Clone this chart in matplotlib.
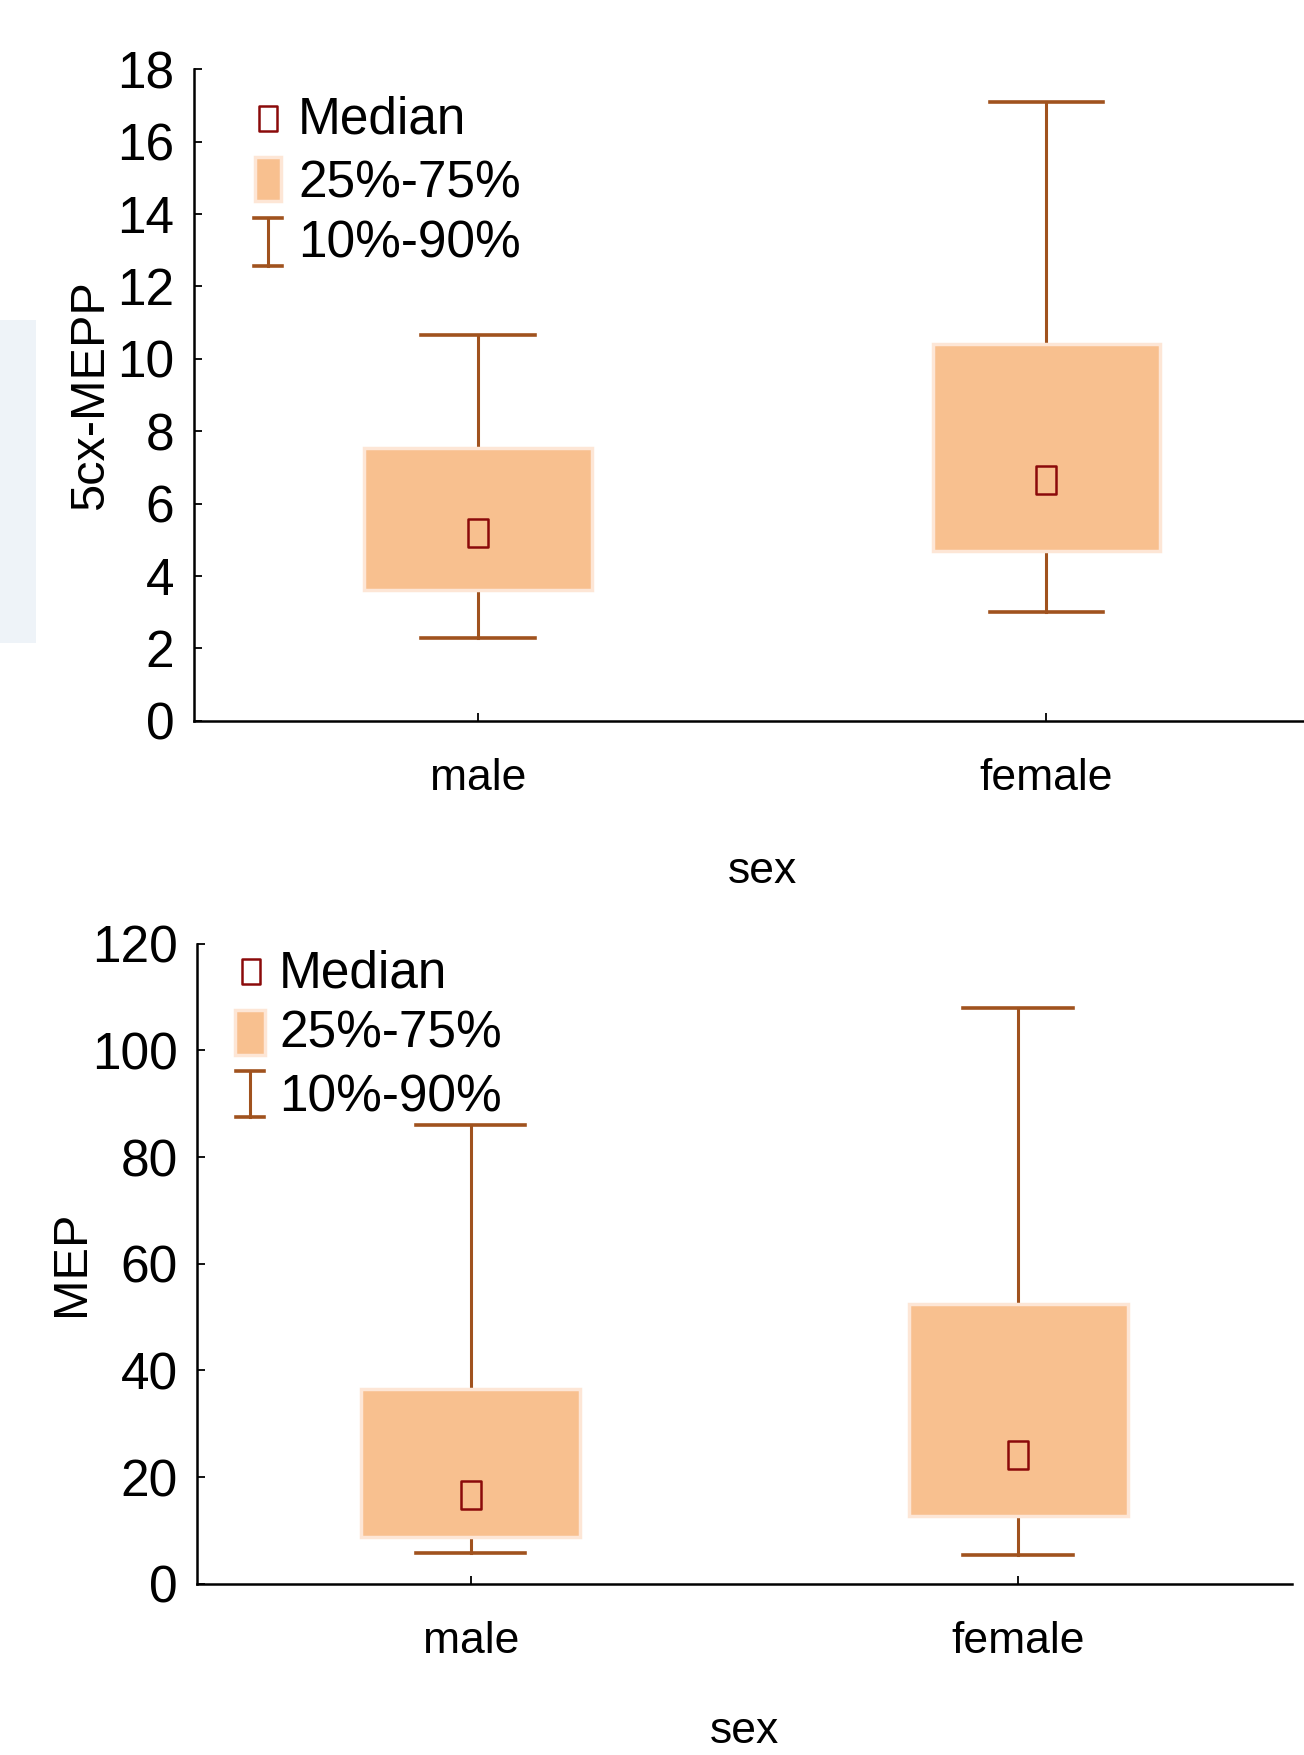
import numpy as np
import matplotlib
matplotlib.use('Agg')
import matplotlib.pyplot as plt
from matplotlib.patches import Rectangle
from matplotlib.lines import Line2D
from matplotlib.path import Path

groups = ['male', 'female']

# 5cx-MEPP percentiles per group
mepp_p10 = [2.3, 3.0]
mepp_q1 = [3.6, 4.7]
mepp_median = [5.2, 6.65]
mepp_q3 = [7.55, 10.4]
mepp_p90 = [10.65, 17.1]

# MEP percentiles per group
mep_p10 = [5.7, 5.5]
mep_q1 = [8.8, 12.8]
mep_median = [16.6, 24.1]
mep_q3 = [36.5, 52.4]
mep_p90 = [86.0, 108.0]

W, H = 1304, 1755
plt.rcParams['font.family'] = ['Liberation Sans', 'DejaVu Sans']

whisker_c = '#A0521E'
box_fill = '#F8C08F'
box_edge = '#FDE6D6'
median_c = '#8B0A0A'

# slightly tall open square used for the median
med_marker = Path([(-0.75, -1), (0.75, -1), (0.75, 1), (-0.75, 1), (-0.75, -1)],
                  [Path.MOVETO, Path.LINETO, Path.LINETO, Path.LINETO, Path.CLOSEPOLY])


def fx(px):
    return px / W


def fy(py):
    return 1 - py / H


def draw_panel(ax, p10, q1, med, q3, p90, ymax, ystep, ylabel):
    x = np.arange(1, len(groups) + 1)
    for xi, lo, b, t, hi in zip(x, p10, q1, q3, p90):
        ax.plot([xi, xi], [lo, hi], color=whisker_c, lw=2.2, zorder=1)
        ax.plot([xi - 0.1, xi + 0.1], [lo, lo], color=whisker_c, lw=2.6, zorder=1)
        ax.plot([xi - 0.1, xi + 0.1], [hi, hi], color=whisker_c, lw=2.6, zorder=1)
        ax.add_patch(Rectangle((xi - 0.2, b), 0.4, t - b, facecolor=box_fill,
                               edgecolor=box_edge, lw=2.5, zorder=2))
    ax.plot(x, med, linestyle='none', marker=med_marker, ms=20,
            mfc='none', mec=median_c, mew=1.8, zorder=3)

    ax.set_xlim(0.5, 2.5)
    ax.set_ylim(0, ymax)
    ax.set_xticks(x)
    ax.set_xticklabels(groups, fontsize=32)
    ax.set_yticks(np.arange(0, ymax + 1, ystep))
    ax.tick_params(axis='y', labelsize=37)
    for s in ['top', 'right']:
        ax.spines[s].set_visible(False)
    for s in ['left', 'bottom']:
        ax.spines[s].set_linewidth(1.8)
    ax.tick_params(axis='y', direction='in', length=5.5, width=1.3, pad=14)
    ax.tick_params(axis='x', direction='in', length=6, width=1.3, pad=27)
    ax.set_ylabel(ylabel, fontsize=35)
    ax.set_xlabel('sex', fontsize=32, va='top')


def draw_legend(fig, mx, my, pbox, ebar, tx, baselines):
    fig.add_artist(Line2D([fx(mx)], [fy(my)], linestyle='none', marker=med_marker,
                          ms=18, mfc='none', mec=median_c, mew=1.8,
                          transform=fig.transFigure))
    x0, y0, x1, y1 = pbox
    fig.add_artist(Rectangle((fx(x0), fy(y1)), fx(x1 - x0), (y1 - y0) / H,
                             facecolor=box_fill, edgecolor=box_edge, lw=2.5,
                             transform=fig.transFigure))
    ex0, ex1, ey0, ey1 = ebar
    ec = (ex0 + ex1) / 2
    fig.add_artist(Line2D([fx(ec), fx(ec)], [fy(ey0), fy(ey1)], color=whisker_c,
                          lw=2.2, transform=fig.transFigure))
    for ey in (ey0, ey1):
        fig.add_artist(Line2D([fx(ex0), fx(ex1)], [fy(ey), fy(ey)], color=whisker_c,
                              lw=2.6, transform=fig.transFigure))
    for txt, by in zip(['Median', '25%-75%', '10%-90%'], baselines):
        fig.text(fx(tx), fy(by), txt, fontsize=37, va='baseline')


fig = plt.figure(figsize=(W / 100, H / 100), dpi=100)

# faint grey-blue strip at the left edge
fig.add_artist(Rectangle((0, fy(643)), fx(36), (643 - 320) / H, facecolor='#EEF3F8',
                         edgecolor='none', transform=fig.transFigure, zorder=0))

ax1 = fig.add_axes([0.1485, 0.5893, 0.872, 0.3712])
draw_panel(ax1, mepp_p10, mepp_q1, mepp_median, mepp_q3, mepp_p90, 18, 2, '5cx-MEPP')
ax1.yaxis.set_label_coords(-0.0713, 0.5)
ax1.xaxis.set_label_coords(0.5, -0.2)

ax2 = fig.add_axes([0.1511, 0.0975, 0.8395, 0.3648])
draw_panel(ax2, mep_p10, mep_q1, mep_median, mep_q3, mep_p90, 120, 20, 'MEP')
ax2.yaxis.set_label_coords(-0.0945, 0.5)
ax2.xaxis.set_label_coords(0.5, -0.199)

draw_legend(fig, 267.5, 117.5, (255, 157, 281, 201), (254, 282, 218, 266), 298,
            [133, 197, 258])
draw_legend(fig, 251, 971, (235, 1010, 265, 1055), (236, 264, 1071, 1117), 279,
            [987, 1048, 1112])

fig.savefig('out.png', dpi=100)
